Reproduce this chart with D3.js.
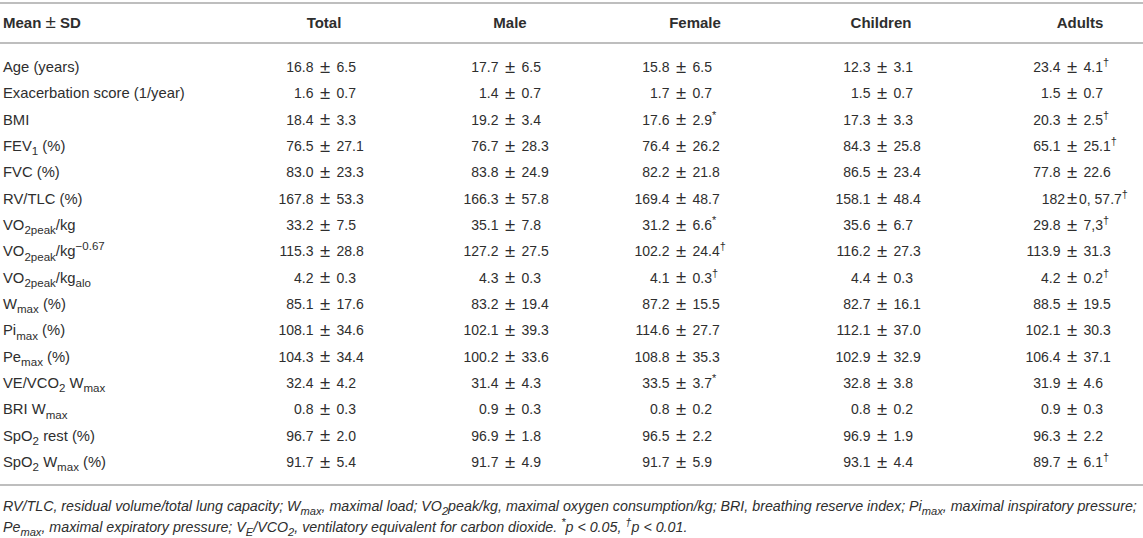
<!DOCTYPE html>
<html>
<head>
<meta charset="utf-8">
<script src="https://cdn.jsdelivr.net/npm/d3@7"></script>
<style>
  html, body { margin: 0; padding: 0; background: #fff; }
  svg text { font-family: "Liberation Sans", Arial, Helvetica, sans-serif; fill: #2e2e2e; }
</style>
</head>
<body>
<div id="table"></div>
<script>
// Table of Mean ± SD values, drawn as svg text with d3.
// Markup in strings: _{..} is subscript, ^{..} is superscript.
var headerLabel = "Mean ± SD";
var columns = ["Total", "Male", "Female", "Children", "Adults"];

var rowLabels = [
  "Age (years)", "Exacerbation score (1/year)", "BMI", "FEV_{1} (%)", "FVC (%)",
  "RV/TLC (%)", "VO_{2peak}/kg", "VO_{2peak}/kg^{−0.67}", "VO_{2peak}/kg_{alo}",
  "W_{max} (%)", "Pi_{max} (%)", "Pe_{max} (%)", "VE/VCO_{2} W_{max}", "BRI W_{max}",
  "SpO_{2} rest (%)", "SpO_{2} W_{max} (%)"
];

var total = ["16.8 ± 6.5", "1.6 ± 0.7", "18.4 ± 3.3", "76.5 ± 27.1", "83.0 ± 23.3", "167.8 ± 53.3",
  "33.2 ± 7.5", "115.3 ± 28.8", "4.2 ± 0.3", "85.1 ± 17.6", "108.1 ± 34.6", "104.3 ± 34.4",
  "32.4 ± 4.2", "0.8 ± 0.3", "96.7 ± 2.0", "91.7 ± 5.4"];
var male = ["17.7 ± 6.5", "1.4 ± 0.7", "19.2 ± 3.4", "76.7 ± 28.3", "83.8 ± 24.9", "166.3 ± 57.8",
  "35.1 ± 7.8", "127.2 ± 27.5", "4.3 ± 0.3", "83.2 ± 19.4", "102.1 ± 39.3", "100.2 ± 33.6",
  "31.4 ± 4.3", "0.9 ± 0.3", "96.9 ± 1.8", "91.7 ± 4.9"];
var female = ["15.8 ± 6.5", "1.7 ± 0.7", "17.6 ± 2.9^{*}", "76.4 ± 26.2", "82.2 ± 21.8", "169.4 ± 48.7",
  "31.2 ± 6.6^{*}", "102.2 ± 24.4^{†}", "4.1 ± 0.3^{†}", "87.2 ± 15.5", "114.6 ± 27.7", "108.8 ± 35.3",
  "33.5 ± 3.7^{*}", "0.8 ± 0.2", "96.5 ± 2.2", "91.7 ± 5.9"];
var children = ["12.3 ± 3.1", "1.5 ± 0.7", "17.3 ± 3.3", "84.3 ± 25.8", "86.5 ± 23.4", "158.1 ± 48.4",
  "35.6 ± 6.7", "116.2 ± 27.3", "4.4 ± 0.3", "82.7 ± 16.1", "112.1 ± 37.0", "102.9 ± 32.9",
  "32.8 ± 3.8", "0.8 ± 0.2", "96.9 ± 1.9", "93.1 ± 4.4"];
var adults = ["23.4 ± 4.1^{†}", "1.5 ± 0.7", "20.3 ± 2.5^{†}", "65.1 ± 25.1^{†}", "77.8 ± 22.6", "182±0, 57.7^{†}",
  "29.8 ± 7,3^{†}", "113.9 ± 31.3", "4.2 ± 0.2^{†}", "88.5 ± 19.5", "102.1 ± 30.3", "106.4 ± 37.1",
  "31.9 ± 4.6", "0.9 ± 0.3", "96.3 ± 2.2", "89.7 ± 6.1^{†}"];

var footnotes = [
  "RV/TLC, residual volume/total lung capacity; W_{max}, maximal load; VO_{2}peak/kg, maximal oxygen consumption/kg; BRI, breathing reserve index; Pi_{max}, maximal inspiratory pressure;",
  "Pe_{max}, maximal expiratory pressure; V_{E}/VCO_{2}, ventilatory equivalent for carbon dioxide. ^{*}p < 0.05, ^{†}p < 0.01."
];

var width = 1143, height = 538;
var cellsByColumn = [total, male, female, children, adults];
var left = 3;

var svg = d3.select("#table").append("svg")
  .attr("width", width).attr("height", height);

// header centres, "±" positions of the values, row centres
var xHead = d3.scaleOrdinal().domain(columns).range([324, 510, 695, 881, 1080]);
var xPm = d3.scaleOrdinal().domain(columns).range([325, 510, 681, 882, 1072]);
var y = d3.scalePoint().domain(d3.range(rowLabels.length)).range([67, 462]);

// split a string with _{..} / ^{..} into tspans; ± is drawn a bit larger
function rich(sel, str, size) {
  var re = /(_|\^)\{([^}]*)\}|±/g, parts = [], last = 0, m;
  while ((m = re.exec(str)) !== null) {
    if (m.index > last) parts.push({ t: str.slice(last, m.index), k: "n" });
    if (m[0] === "±") parts.push({ t: "±", k: "pm" });
    else parts.push({ t: m[2], k: m[1] === "_" ? "sub" : "sup" });
    last = re.lastIndex;
  }
  if (last < str.length) parts.push({ t: str.slice(last), k: "n" });
  var shift = 0;
  parts.forEach(function (p) {
    var target = p.k === "sub" ? size * 0.3 : p.k === "sup" ? -size * 0.42 : 0;
    var fs = p.k === "sub" || p.k === "sup" ? size * 0.78 : p.k === "pm" ? size * 1.25 : null;
    sel.append("tspan")
      .attr("dy", target - shift)
      .style("font-size", fs ? fs + "px" : null)
      .style("font-weight", p.k === "pm" ? "normal" : null)
      .text(p.t);
    shift = target;
  });
}

var lineColor = "#a8a8a8";
[3, 43, 485].forEach(function (ly) {
  svg.append("line").attr("x1", 0).attr("x2", width).attr("y1", ly).attr("y2", ly)
    .attr("stroke", lineColor).attr("stroke-width", 1.6);
});

// header
var head = svg.append("text").attr("x", left).attr("y", 28)
  .style("font-size", "15px").style("font-weight", "bold");
rich(head, headerLabel, 15);
svg.selectAll("text.col-head").data(columns).join("text")
  .attr("class", "col-head")
  .attr("x", function (d) { return xHead(d); })
  .attr("y", 28)
  .attr("text-anchor", "middle")
  .style("font-size", "15px").style("font-weight", "bold")
  .text(function (d) { return d; });

// row labels
svg.selectAll("text.row-label").data(rowLabels).join("text")
  .attr("class", "row-label")
  .attr("x", left)
  .attr("y", function (d, i) { return y(i) + 5; })
  .style("font-size", "14.8px")
  .each(function (d) { rich(d3.select(this), d, 14.8); });

// value cells, aligned on the ± sign
columns.forEach(function (col, ci) {
  var g = svg.append("g");
  cellsByColumn[ci].forEach(function (cell, ri) {
    var idx = cell.indexOf("±");
    var mean = cell.slice(0, idx).trim();
    var rest = cell.slice(idx + 1).trim();
    var gap = cell.charAt(idx - 1) !== " " ? 7 : 11.5;
    var cx = xPm(col), cy = y(ri) + 5;
    g.append("text").attr("x", cx - gap).attr("y", cy)
      .attr("text-anchor", "end").style("font-size", "14px").text(mean);
    g.append("text").attr("x", cx).attr("y", cy + 0.5)
      .attr("text-anchor", "middle").style("font-size", "18.5px").text("±");
    var r = g.append("text").attr("x", cx + gap).attr("y", cy)
      .style("font-size", "14px");
    rich(r, rest, 14);
  });
});

// footnotes
footnotes.forEach(function (f, i) {
  var t = svg.append("text").attr("x", left).attr("y", 511 + i * 21)
    .style("font-size", "14.25px").style("font-style", "italic");
  rich(t, f, 14.25);
});
</script>
</body>
</html>
